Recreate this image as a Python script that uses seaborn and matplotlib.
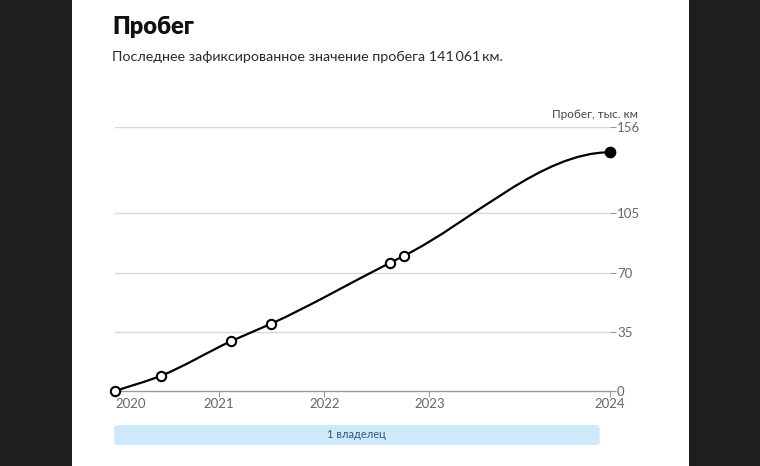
import numpy as np
import pandas as pd
import matplotlib
matplotlib.use("Agg")
import matplotlib.pyplot as plt
import seaborn as sns
from matplotlib.path import Path
from matplotlib.patches import PathPatch, FancyBboxPatch, Rectangle

# --- data ---
dates = ["2020-01-04", "2020-06-12", "2021-02-12", "2021-07-01",
         "2022-08-18", "2022-10-06", "2024-09-20"]
mileage = [0.0, 9.0, 29.5, 39.8, 75.8, 80.0, 141.061]
y_ticks = [0, 35, 70, 105, 156]
year_labels = ["2020", "2021", "2022", "2023", "2024"]
owners = ["1 владелец"]
owner_start = ["2020-01-01"]
owner_end = ["2024-08-15"]


def to_year(d):
    d = pd.Timestamp(d)
    start = pd.Timestamp(year=d.year, month=1, day=1)
    days = 366 if d.is_leap_year else 365
    return d.year + (d - start).days / days


df = pd.DataFrame({"year": [to_year(d) for d in dates], "km": mileage})
df["kind"] = ["hist"] * (len(df) - 1) + ["last"]

sns.set_theme(style="white")
plt.rcParams["font.family"] = ["Lato", "DejaVu Sans"]

fig = plt.figure(figsize=(7.6, 4.66), dpi=100)
fig.patch.set_facecolor("#1e1e1e")
fig.add_artist(Rectangle((72 / 760, 0), (689 - 72) / 760, 1,
                         transform=fig.transFigure, facecolor="white",
                         edgecolor="none", zorder=0))

fig.text(112 / 760, 1 - 27 / 466, "Пробег", fontsize=17, fontweight="heavy",
         color="#111111", va="center", ha="left")
fig.text(112 / 760, 1 - 57 / 466,
         "Последнее зафиксированное значение пробега 141\u2009061\u2009км.",
         fontsize=10.3, color="#2a2a2a", va="center", ha="left")

ax = fig.add_axes([115 / 760, 1 - 391 / 466, 495 / 760, 264 / 466])
ax.set_facecolor("none")
x = df["year"].to_numpy()
y = df["km"].to_numpy()
ax.set_xlim(x[0], x[-1])
ax.set_ylim(0, y_ticks[-1])

# smooth monotone-style curve drawn as bezier segments through the points
h = np.diff(x)
s = np.diff(y) / h
t = np.zeros_like(y)
t[0] = s[0]
for i in range(1, len(y) - 1):
    p = (s[i - 1] * h[i] + s[i] * h[i - 1]) / (h[i - 1] + h[i])
    t[i] = (np.sign(s[i - 1]) + np.sign(s[i])) * min(abs(s[i - 1]), abs(s[i]), 0.5 * abs(p))
t[-1] = 0.0
verts = [(x[0], y[0])]
codes = [Path.MOVETO]
for i in range(len(h)):
    verts += [(x[i] + h[i] / 3, y[i] + t[i] * h[i] / 3),
              (x[i + 1] - h[i] / 3, y[i + 1] - t[i + 1] * h[i] / 3),
              (x[i + 1], y[i + 1])]
    codes += [Path.CURVE4] * 3
ax.add_patch(PathPatch(Path(verts, codes), facecolor="none", edgecolor="black",
                       lw=1.6, zorder=3, clip_on=False))

sns.scatterplot(data=df[df["kind"] == "hist"], x="year", y="km", ax=ax,
                s=45, facecolor="white", edgecolor="black", linewidth=1.5,
                zorder=4, clip_on=False, legend=False)
sns.scatterplot(data=df[df["kind"] == "last"], x="year", y="km", ax=ax,
                s=55, color="black", edgecolor="black", linewidth=1,
                zorder=4, clip_on=False, legend=False)

for v in y_ticks[1:]:
    ax.axhline(v, color="#d9d9d9", lw=1, zorder=1)

ax.yaxis.tick_right()
ax.set_yticks(y_ticks)
ax.set_yticklabels([str(v) for v in y_ticks])
xt = [x[0], 2021, 2022, 2023, x[-1]]
ax.set_xticks(xt)
ax.set_xticklabels(year_labels)
ax.get_xticklabels()[0].set_ha("left")
ax.tick_params(axis="y", right=True, length=4, width=0.8, color="#999999",
               labelcolor="#666666", labelsize=9.5, pad=1)
ax.tick_params(axis="x", bottom=True, length=4, width=0.8, color="#999999",
               labelcolor="#666666", labelsize=9.5, pad=1)
ax.set_xlabel("")
ax.set_ylabel("")
for side in ["top", "left", "right"]:
    ax.spines[side].set_visible(False)
ax.spines["bottom"].set_color("#9a9a9a")
ax.spines["bottom"].set_linewidth(1)

fig.text(638 / 760, 1 - 115 / 466, "Пробег, тыс. км", fontsize=8.5,
         color="#444444", ha="right", va="center")

# owners strip
ax2 = fig.add_axes([115 / 760, 1 - 445 / 466, 495 / 760, 20 / 466])
ax2.set_xlim(x[0], x[-1])
ax2.set_ylim(0, 1)
ax2.axis("off")
px_per_year = 495 / (x[-1] - x[0])
for name, a, b in zip(owners, owner_start, owner_end):
    xa, xb = to_year(a), to_year(b)
    ax2.add_patch(FancyBboxPatch((xa, 0), xb - xa, 1,
                                 boxstyle="round,pad=0,rounding_size=%f" % (4 / px_per_year),
                                 mutation_aspect=px_per_year / 20,
                                 facecolor="#cde9fb", edgecolor="none", clip_on=False))
    ax2.text((xa + xb) / 2, 0.5, name, ha="center", va="center",
             fontsize=8, color="#3a5570")

fig.savefig("out.png", dpi=100, facecolor=fig.get_facecolor())
